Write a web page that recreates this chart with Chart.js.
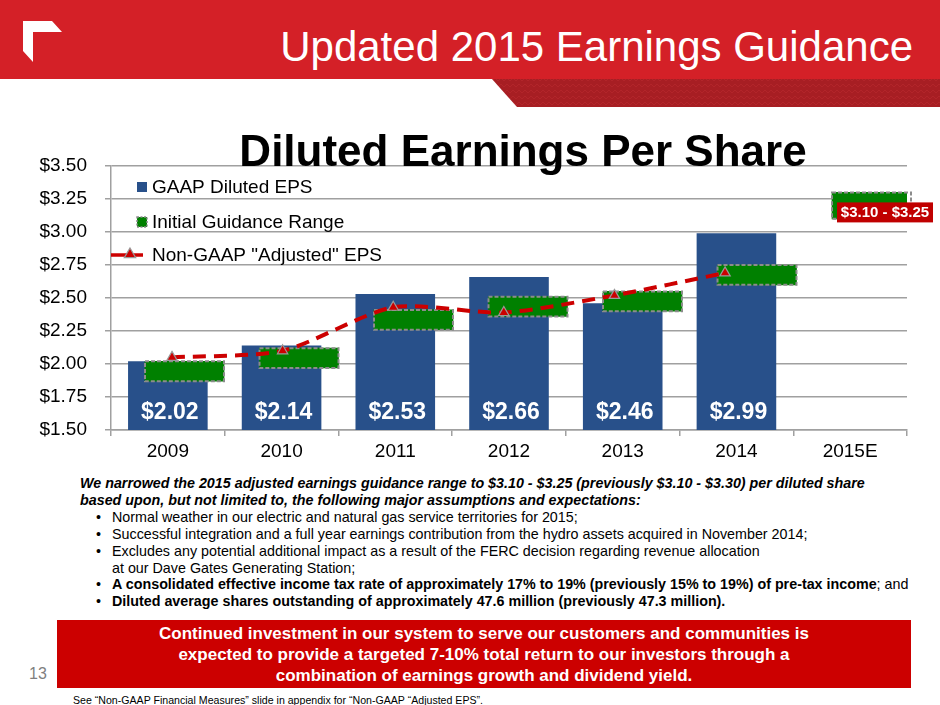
<!DOCTYPE html>
<html><head><meta charset="utf-8">
<script src="https://cdn.jsdelivr.net/npm/chart.js@4.4.0/dist/chart.umd.min.js"></script>
<style>
html,body{margin:0;padding:0;background:#fff;}
body{width:940px;height:705px;position:relative;overflow:hidden;font-family:"Liberation Sans",Arial,sans-serif;}
#hdr{position:absolute;left:0;top:0;width:940px;height:79px;background:#D42027;}
#deco{position:absolute;left:0;top:0;}
#htitle{position:absolute;right:27px;top:22px;color:#fff;font-size:42px;line-height:50px;white-space:nowrap;}
#chartbox{position:absolute;left:0;top:120px;width:940px;height:350px;}
#ctitle{position:absolute;left:0;top:126px;width:1046px;text-align:center;font-weight:bold;font-size:44px;line-height:50px;color:#000;white-space:nowrap;}
#notes{position:absolute;left:80px;top:475px;font-size:14.3px;line-height:16.9px;color:#000;white-space:nowrap;}
#notes .lead{font-weight:bold;font-style:italic;}
#notes .b{position:relative;padding-left:32px;}
#notes .b:before{content:"\2022";position:absolute;left:16px;top:0;}
#redbox{position:absolute;left:57px;top:620px;width:854px;height:68px;background:#CC0000;color:#fff;font-weight:bold;font-size:17px;line-height:21px;text-align:center;padding-top:3px;box-sizing:border-box;white-space:nowrap;}
#pnum{position:absolute;left:29px;top:664px;font-size:16px;line-height:20px;color:#7f7f7f;}
#foot{position:absolute;left:73px;top:694px;font-size:10.6px;line-height:12px;color:#000;white-space:nowrap;}
</style>
</head><body>
<div id="hdr"></div>
<svg id="deco" width="940" height="110">
  <defs>
    <pattern id="tex" width="6" height="6" patternUnits="userSpaceOnUse">
      <rect width="6" height="6" fill="#A71E23"/>
      <path d="M0,3 L3,0 L6,3" stroke="#B2252A" stroke-width="1" fill="none"/>
    </pattern>
  </defs>
  <polygon points="492,79 940,79 940,107 517,107" fill="url(#tex)"/>
  <polygon points="23,21 52,21 62,32 33,32 33,62 23,51" fill="#fff"/>
</svg>
<div id="htitle">Updated 2015 Earnings Guidance</div>
<div id="chartbox"><canvas id="c" width="940" height="350"></canvas></div>
<div id="ctitle">Diluted Earnings Per Share</div>
<div id="notes">
<div class="lead">We narrowed the 2015 adjusted earnings guidance range to $3.10 - $3.25 (previously $3.10 - $3.30) per diluted share</div>
<div class="lead">based upon, but not limited to, the following major assumptions and expectations:</div>
<div class="b">Normal weather in our electric and natural gas service territories for 2015;</div>
<div class="b">Successful integration and a full year earnings contribution from the hydro assets acquired in November 2014;</div>
<div class="b">Excludes any potential additional impact as a result of the FERC decision regarding revenue allocation</div>
<div style="padding-left:32px">at our Dave Gates Generating Station;</div>
<div class="b"><b>A consolidated effective income tax rate of approximately 17% to 19% (previously 15% to 19%) of pre-tax income</b>; and</div>
<div class="b"><b>Diluted average shares outstanding of approximately 47.6 million (previously 47.3 million).</b></div>
</div>
<div id="redbox">Continued investment in our system to serve our customers and communities is<br>expected to provide a targeted 7-10% total return to our investors through a<br>combination of earnings growth and dividend yield.</div>
<div id="pnum">13</div>
<div id="foot">See “Non-GAAP Financial Measures” slide in appendix for “Non-GAAP “Adjusted EPS”.</div>
<script>
// ---- data ----
const categories = ['2009','2010','2011','2012','2013','2014','2015E'];
const gaapEPS = [2.02, 2.14, 2.53, 2.66, 2.46, 2.99, null];
const guidanceLow = [1.87, 1.97, 2.26, 2.36, 2.40, 2.60, 3.10];
const guidanceHigh = [2.02, 2.12, 2.41, 2.51, 2.55, 2.75, 3.30];
const adjustedEPS = [2.05, 2.10, 2.43, 2.39, 2.52, 2.69, null];
const seriesNames = ['GAAP Diluted EPS', 'Initial Guidance Range', 'Non-GAAP "Adjusted" EPS'];
const yMin = 1.5, yMax = 3.5, yStep = 0.25;
const guidance2015Label = '$3.10 - $3.25';

const FONT = '"Liberation Sans", Arial, sans-serif';
Chart.defaults.font.family = FONT;
Chart.defaults.color = '#000';

const GRID = '#a0a0a0';

const guidanceData = categories.map((c, i) => ({x: i, y: [guidanceLow[i], guidanceHigh[i]]}));
const adjustedData = adjustedEPS.map((v, i) => ({x: i, y: v})).filter(p => p.y !== null);

function triangle(ctx, x, y, r, fill, stroke) {
  ctx.beginPath();
  ctx.moveTo(x, y - r);
  ctx.lineTo(x + r * 0.95, y + r * 0.6);
  ctx.lineTo(x - r * 0.95, y + r * 0.6);
  ctx.closePath();
  ctx.fillStyle = fill; ctx.fill();
  ctx.lineWidth = 1.2; ctx.strokeStyle = stroke; ctx.stroke();
}

const decorPlugin = {
  id: 'decor',
  afterDatasetDraw(chart, args) {
    if (args.index !== 1) return;
    const ctx = chart.ctx;
    ctx.save();
    ctx.setLineDash([4, 2]);
    ctx.lineWidth = 2;
    ctx.strokeStyle = '#8c8c8c';
    args.meta.data.forEach(el => {
      const p = el.getProps(['x', 'y', 'base', 'width'], true);
      ctx.strokeRect(p.x - p.width / 2, Math.min(p.y, p.base), p.width, Math.abs(p.base - p.y));
    });
    ctx.restore();
  },
  afterDraw(chart) {
    const ctx = chart.ctx, a = chart.chartArea;
    const ds = chart.data.datasets;
    ctx.save();
    // value labels inside GAAP bars
    const m0 = chart.getDatasetMeta(0);
    ctx.font = 'bold 23px ' + FONT;
    ctx.fillStyle = '#fff';
    ctx.textAlign = 'center';
    ctx.textBaseline = 'alphabetic';
    m0.data.forEach((el, i) => {
      const v = gaapEPS[i];
      if (v === null) return;
      ctx.fillText('$' + v.toFixed(2), el.x + 2, a.bottom - 11);
    });
    // legend
    const rows = [a.top + 21, a.top + 56, a.top + 89];
    const mx = a.left + 26;
    ctx.fillStyle = ds[0].backgroundColor;
    ctx.fillRect(mx, rows[0] - 5, 10, 10);
    ctx.fillStyle = ds[1].backgroundColor;
    ctx.fillRect(mx, rows[1] - 5, 10, 10);
    ctx.setLineDash([2, 1.5]); ctx.lineWidth = 1.5; ctx.strokeStyle = '#8c8c8c';
    ctx.strokeRect(mx, rows[1] - 5, 10, 10);
    ctx.setLineDash([]);
    ctx.strokeStyle = ds[2].borderColor; ctx.lineWidth = 3.5;
    ctx.beginPath(); ctx.moveTo(a.left, rows[2]); ctx.lineTo(a.left + 32, rows[2]); ctx.stroke();
    triangle(ctx, a.left + 19, rows[2] - 1, 6, '#CC0000', '#9a9a9a');
    ctx.font = '19px ' + FONT;
    ctx.fillStyle = '#000';
    ctx.textAlign = 'left';
    ctx.textBaseline = 'middle';
    seriesNames.forEach((n, i) => ctx.fillText(n, a.left + 41, rows[i] + 1));
    // 2015 guidance label
    const m1 = chart.getDatasetMeta(1);
    const el = m1.data[categories.length - 1];
    const p = el.getProps(['x', 'y', 'width'], true);
    const bx = p.x - p.width / 2 + 5, by = p.y + 10;
    ctx.fillStyle = '#C00000';
    ctx.fillRect(bx, by, 96, 20);
    ctx.font = 'bold 15px ' + FONT;
    ctx.fillStyle = '#fff';
    ctx.textAlign = 'center';
    ctx.fillText(guidance2015Label, bx + 48, by + 10.5);
    ctx.restore();
  }
};

new Chart(document.getElementById('c'), {
  type: 'bar',
  data: {
    labels: categories,
    datasets: [
      {
        type: 'bar', label: seriesNames[0], data: gaapEPS, xAxisID: 'x', yAxisID: 'y',
        backgroundColor: '#28508A', barPercentage: 0.7, categoryPercentage: 1, order: 2, grouped: false
      },
      {
        type: 'bar', label: seriesNames[1], data: guidanceData, xAxisID: 'xg', yAxisID: 'y',
        backgroundColor: '#008000', barThickness: 79, order: 1, grouped: false
      },
      {
        type: 'line', label: seriesNames[2], data: adjustedData, xAxisID: 'xl', yAxisID: 'y',
        borderColor: '#CC0000', borderWidth: 4, borderDash: [13, 8], tension: 0.25, fill: false,
        pointStyle: 'triangle', pointRadius: 6, pointBackgroundColor: '#CC0000',
        pointBorderColor: '#9a9a9a', pointBorderWidth: 1.2, order: 0
      }
    ]
  },
  options: {
    responsive: false,
    animation: false,
    layout: {padding: {left: 0, right: 33, top: 46, bottom: 0}},
    plugins: {legend: {display: false}, tooltip: {enabled: false}, title: {display: false}},
    scales: {
      x: {
        type: 'category', position: 'bottom', offset: true,
        grid: {offset: true, drawOnChartArea: false, drawTicks: true, tickLength: 6, color: GRID, lineWidth: 1.5},
        border: {display: true, color: GRID, width: 1.5},
        ticks: {font: {size: 19}, color: '#000', padding: 4, maxRotation: 0, autoSkip: false},
        afterFit(s) { s.height = 40; }
      },
      xg: {type: 'linear', display: false, offset: false, min: -0.642, max: 6.31},
      xl: {type: 'linear', display: false, offset: false, min: -0.5515, max: 6.645},
      y: {
        type: 'linear', position: 'left', min: yMin, max: yMax, beginAtZero: false,
        ticks: {stepSize: yStep, font: {size: 19}, color: '#000', padding: 18,
          callback: v => '$' + Number(v).toFixed(2)},
        grid: {color: GRID, lineWidth: 1.5, tickLength: 6, drawTicks: true},
        border: {display: true, color: GRID, width: 1.5},
        afterFit(s) { s.width = 111; }
      }
    }
  },
  plugins: [decorPlugin]
});
</script>
</body></html>
